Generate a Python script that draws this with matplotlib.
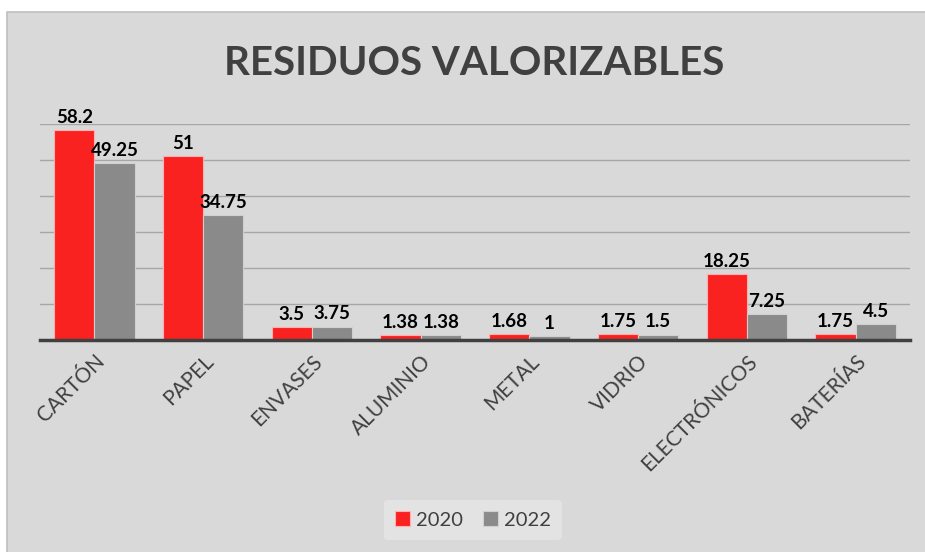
import matplotlib.pyplot as plt
import matplotlib.patches as patches
import numpy as np

categorias = ["CARTÓN", "PAPEL", "ENVASES", "ALUMINIO", "METAL", "VIDRIO", "ELECTRÓNICOS", "BATERÍAS"]
valores_2020 = [58.2, 51, 3.5, 1.38, 1.68, 1.75, 18.25, 1.75]
valores_2022 = [49.25, 34.75, 3.75, 1.38, 1, 1.5, 7.25, 4.5]
etiquetas_2020 = ["58.2", "51", "3.5", "1.38", "1.68", "1.75", "18.25", "1.75"]
etiquetas_2022 = ["49.25", "34.75", "3.75", "1.38", "1", "1.5", "7.25", "4.5"]

plt.rcParams['font.family'] = ['Lato', 'DejaVu Sans']

fig = plt.figure(figsize=(9.25, 5.52), dpi=100)
fig.patch.set_facecolor('white')
fondo = patches.Rectangle((7 / 925, -0.01), 1.0, 540 / 552 + 0.01, transform=fig.transFigure,
                          facecolor='#D9D9D9', edgecolor='#BFBFBF', linewidth=1.2, zorder=-10)
fig.patches.append(fondo)

ax = fig.add_axes([40 / 925, (552 - 340) / 552, 870 / 925, 216 / 552])
ax.set_facecolor('none')

x = np.arange(len(categorias))
ancho = 0.37
b1 = ax.bar(x - ancho / 2, valores_2020, ancho, color='#FA2121', edgecolor='#FFB0B0',
            linewidth=0.8, label='2020', zorder=3)
b2 = ax.bar(x + ancho / 2, valores_2022, ancho, color='#8A8A8A', edgecolor='#D0D0D0',
            linewidth=0.8, label='2022', zorder=3)

for barras, etiquetas in [(b1, etiquetas_2020), (b2, etiquetas_2022)]:
    for barra, et in zip(barras, etiquetas):
        ax.annotate(et, (barra.get_x() + barra.get_width() / 2, barra.get_height()),
                    xytext=(0, 3), textcoords='offset points', ha='center', va='bottom',
                    fontsize=13.5, fontweight='bold', color='black', zorder=5)

ax.set_xlim(-0.5, len(categorias) - 0.5)
ax.set_ylim(0, 60)
ax.set_yticks(range(10, 61, 10))
ax.yaxis.grid(True, color='#A6A6A6', linewidth=1.0, zorder=0)
ax.tick_params(axis='y', left=False, labelleft=False)
ax.tick_params(axis='x', length=0, pad=8)
for lado in ['top', 'right', 'left']:
    ax.spines[lado].set_visible(False)
ax.spines['bottom'].set_color('#404040')
ax.spines['bottom'].set_linewidth(2.5)
ax.spines['bottom'].set_zorder(4)

ax.set_xticks(x)
ax.set_xticklabels(categorias, rotation=45, ha='right', rotation_mode='anchor',
                   fontsize=15, color='#404040')

fig.text(0.513, 0.885, "RESIDUOS VALORIZABLES", ha='center', va='center',
         fontsize=29, fontweight='bold', color='#404040')

leg = fig.legend(loc='center', bbox_to_anchor=(473 / 925, 1 - 520 / 552), ncol=2,
                 frameon=True, fontsize=14.5, handlelength=0.75, handleheight=0.75,
                 handletextpad=0.3, columnspacing=1.0, borderpad=0.55)
leg.get_frame().set_facecolor('#E3E3E3')
leg.get_frame().set_edgecolor('none')
leg.get_frame().set_alpha(1)
for t in leg.get_texts():
    t.set_color('#404040')

fig.savefig('out.png', dpi=100)
